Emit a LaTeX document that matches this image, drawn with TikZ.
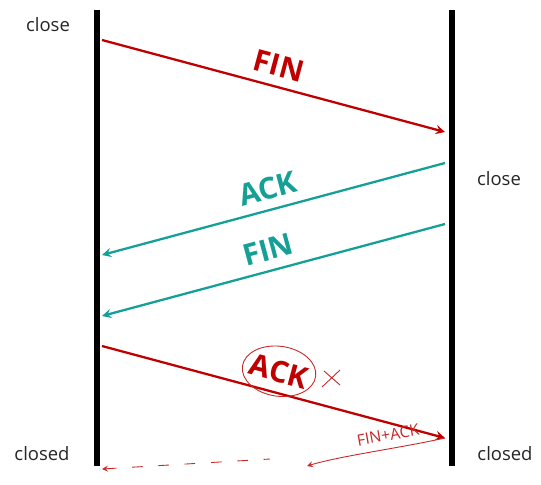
\documentclass[tikz,border=0pt]{standalone}
\usepackage{fontspec}
\setmainfont{Open Sans}
\usetikzlibrary{arrows, positioning}
\definecolor{Rojo}{RGB}{192, 0, 0}
\definecolor{Verde}{RGB}{20, 160, 150}

\begin{document}
\begin{tikzpicture}[
        x=0.02cm, y=-0.02cm,
        lifeline/.style={line width=3pt, draw=black},
        msg/.style={line width=1.3pt, ->, >=stealth},
        lbl/.style={midway, sloped, above=2pt, font=\fontsize{17}{20}\selectfont\bfseries},
        estado/.style={font=\fontsize{10.5}{12}\selectfont, text=black!85},
        mano/.style={draw=Rojo!85, line width=0.5pt}
    ]
        % marco
        \fill[white] (0,0) rectangle (541,484);

        % ================= LINEAS DE VIDA =================
        \coordinate (izq_top) at (97,10);
        \coordinate (izq_bot) at (97,466);
        \coordinate (der_top) at (452,10);
        \coordinate (der_bot) at (452,466);
        \draw[lifeline] (izq_top) -- (izq_bot);
        \draw[lifeline] (der_top) -- (der_bot);

        % ================= ESTADOS =================
        \node[estado] (cli_close) at (48,25) {close};
        \node[estado] (srv_close) at (499,179) {close};
        \node[estado] (cli_closed) at (42,454) {closed};
        \node[estado] (srv_closed) at (505,454) {closed};

        % ================= MENSAJES =================
        \coordinate (fin1_a) at (102,40);
        \coordinate (fin1_b) at (445,132);
        \coordinate (ack1_a) at (445,163);
        \coordinate (ack1_b) at (102,255);
        \coordinate (fin2_a) at (445,224);
        \coordinate (fin2_b) at (102,316);
        \coordinate (ack2_a) at (102,346);
        \coordinate (ack2_b) at (445,438);

        \draw[msg, draw=Rojo] (fin1_a) -- node[lbl, text=Rojo] (fin1) {FIN} (fin1_b);
        \draw[msg, draw=Verde] (ack1_a) -- node[lbl, text=Verde] (ack1) {ACK} (ack1_b);
        \draw[msg, draw=Verde] (fin2_a) -- node[lbl, text=Verde] (fin2) {FIN} (fin2_b);
        \draw[msg, draw=Rojo] (ack2_a) -- node[lbl, text=Rojo] (ack2) {ACK} (ack2_b);

        % ================= ANOTACIONES A MANO =================
        \draw[mano, rotate around={-8:(ack2.center)}] (ack2.center) ellipse [x radius=0.74cm, y radius=0.5cm];
        \draw[mano] (324,371) -- (340,385) (340,370) -- (322,387);
        \node[text=Rojo!85, font=\fontsize{9}{10}\selectfont, rotate=10] (finack) at (388,435) {FIN+ACK};
        \draw[mano, ->, >=stealth] (ack2_b) .. controls (400,448) and (340,456) .. (307,466);
        \draw[mano, dashed, dash pattern=on 6pt off 9pt, <-, >=stealth] (102,469) -- (270,459);
\end{tikzpicture}
\end{document}
